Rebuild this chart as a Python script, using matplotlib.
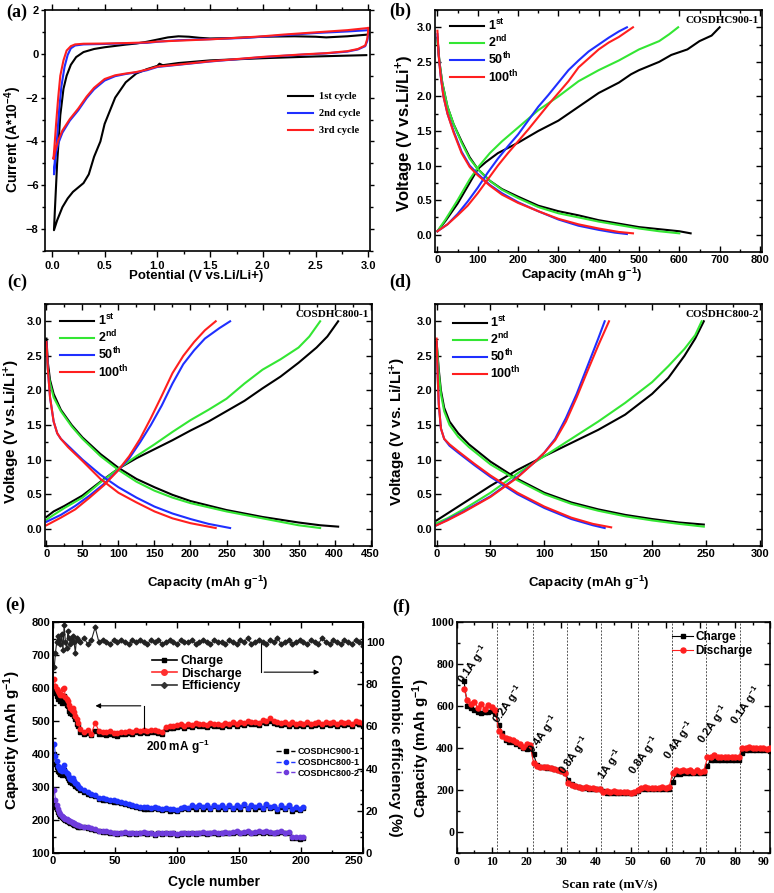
import numpy as np
import matplotlib
matplotlib.use("Agg")
import matplotlib.pyplot as plt
from matplotlib.ticker import MultipleLocator
from matplotlib.lines import Line2D

# ---- (a) cyclic voltammetry: (V, current*1e-4)
cv_1st = [(2.98, -0.06), (2.5, -0.12), (2.0, -0.2), (1.5, -0.3), (1.2, -0.42), (1.05, -0.52),
          (1.02, -0.45), (1.0, -0.55), (0.9, -0.7), (0.8, -0.9), (0.7, -1.3), (0.6, -2.0),
          (0.55, -2.6), (0.5, -3.2), (0.46, -4.0), (0.4, -4.7), (0.35, -5.5), (0.3, -5.9),
          (0.25, -6.1), (0.2, -6.3), (0.15, -6.6), (0.1, -7.0), (0.05, -7.6), (0.02, -8.05),
          (0.03, -7.0), (0.05, -5.0), (0.08, -2.8), (0.11, -1.6), (0.14, -1.0), (0.18, -0.5),
          (0.23, -0.15), (0.3, 0.08), (0.4, 0.22), (0.5, 0.3), (0.6, 0.36), (0.7, 0.42),
          (0.8, 0.47), (0.9, 0.55), (1.0, 0.65), (1.1, 0.75), (1.2, 0.8), (1.3, 0.78),
          (1.4, 0.73), (1.5, 0.7), (1.7, 0.72), (2.0, 0.78), (2.3, 0.8), (2.5, 0.78),
          (2.6, 0.75), (2.8, 0.8), (3.0, 0.88)]
cv_2nd = [(3.0, 0.95), (2.99, 0.6), (2.97, 0.35), (2.9, 0.2), (2.8, 0.1), (2.6, 0.02),
          (2.4, -0.03), (2.0, -0.15), (1.5, -0.35), (1.2, -0.5), (1.0, -0.6), (0.9, -0.75),
          (0.8, -0.85), (0.7, -0.92), (0.6, -1.02), (0.5, -1.22), (0.4, -1.62), (0.33, -2.02),
          (0.25, -2.58), (0.17, -3.05), (0.1, -3.6), (0.06, -4.1), (0.03, -4.7), (0.02, -5.5),
          (0.03, -5.0), (0.05, -3.8), (0.07, -2.5), (0.09, -1.5), (0.12, -0.6), (0.15, -0.05),
          (0.18, 0.25), (0.22, 0.38), (0.3, 0.43), (0.5, 0.45), (0.7, 0.48), (0.9, 0.5),
          (1.0, 0.55), (1.2, 0.62), (1.5, 0.67), (1.8, 0.72), (2.0, 0.78), (2.2, 0.85),
          (2.5, 0.95), (2.8, 1.02), (3.0, 1.08)]
cv_3rd = [(3.0, 1.18), (2.99, 0.7), (2.97, 0.38), (2.9, 0.22), (2.8, 0.12), (2.6, 0.03),
          (2.4, -0.02), (2.0, -0.14), (1.5, -0.34), (1.2, -0.49), (1.0, -0.58), (0.9, -0.72),
          (0.8, -0.83), (0.7, -0.9), (0.6, -0.98), (0.5, -1.15), (0.4, -1.55), (0.33, -1.95),
          (0.25, -2.5), (0.17, -2.98), (0.1, -3.5), (0.06, -3.95), (0.03, -4.45), (0.015, -4.8),
          (0.025, -4.2), (0.04, -3.2), (0.06, -2.0), (0.08, -1.0), (0.11, -0.3), (0.14, 0.15),
          (0.18, 0.35), (0.22, 0.43), (0.3, 0.46), (0.5, 0.47), (0.7, 0.49), (0.9, 0.52),
          (1.0, 0.56), (1.2, 0.6), (1.5, 0.66), (1.8, 0.74), (2.0, 0.8), (2.2, 0.88),
          (2.5, 0.98), (2.8, 1.08), (3.0, 1.18)]

# ---- (b) COSDHC900-1 (capacity, voltage)
b1_dis = [(0, 2.85), (5, 2.5), (12, 2.2), (25, 1.85), (40, 1.6), (60, 1.35), (80, 1.12), (100, 0.95),
          (130, 0.78), (160, 0.66), (200, 0.55), (250, 0.42), (300, 0.34), (350, 0.28), (400, 0.21),
          (450, 0.16), (500, 0.11), (550, 0.08), (600, 0.05), (628, 0.02)]
b1_chg = [(0, 0.05), (20, 0.2), (50, 0.45), (80, 0.75), (100, 0.95), (120, 1.05), (150, 1.18),
          (200, 1.33), (250, 1.5), (300, 1.65), (350, 1.85), (400, 2.05), (450, 2.2), (480, 2.32),
          (500, 2.38), (550, 2.5), (580, 2.6), (620, 2.68), (650, 2.8), (680, 2.88), (700, 3.0)]
b2_dis = [(0, 2.8), (5, 2.5), (12, 2.2), (25, 1.85), (40, 1.6), (60, 1.33), (80, 1.1), (100, 0.95),
          (130, 0.78), (160, 0.65), (200, 0.53), (250, 0.4), (300, 0.31), (350, 0.25), (400, 0.19),
          (450, 0.14), (500, 0.09), (550, 0.05), (600, 0.02)]
b2_chg = [(0, 0.05), (20, 0.22), (50, 0.5), (80, 0.8), (100, 0.97), (130, 1.18), (160, 1.35),
          (200, 1.55), (250, 1.8), (300, 2.0), (350, 2.22), (400, 2.38), (450, 2.52), (500, 2.68),
          (550, 2.8), (575, 2.9), (597, 3.0)]
b50_dis = [(0, 2.9), (3, 2.6), (8, 2.3), (15, 2.0), (25, 1.75), (40, 1.5), (60, 1.2), (80, 1.0),
           (100, 0.88), (130, 0.72), (160, 0.6), (200, 0.47), (250, 0.34), (300, 0.22), (350, 0.13),
           (400, 0.07), (440, 0.03), (470, 0.01)]
b50_chg = [(0, 0.05), (25, 0.15), (50, 0.3), (75, 0.48), (100, 0.68), (125, 0.9), (150, 1.1),
           (175, 1.28), (200, 1.45), (225, 1.65), (250, 1.85), (275, 2.02), (300, 2.2), (325, 2.38),
           (350, 2.52), (375, 2.65), (400, 2.75), (425, 2.85), (450, 2.94), (470, 3.0)]
b100_dis = [(0, 2.95), (3, 2.6), (8, 2.3), (15, 2.0), (25, 1.75), (40, 1.48), (60, 1.18), (80, 0.98),
            (100, 0.86), (130, 0.71), (160, 0.58), (200, 0.46), (250, 0.34), (300, 0.23), (350, 0.15),
            (400, 0.09), (450, 0.04), (485, 0.02)]
b100_chg = [(0, 0.05), (25, 0.15), (50, 0.28), (75, 0.42), (100, 0.6), (125, 0.8), (150, 1.0),
            (175, 1.18), (200, 1.35), (225, 1.52), (250, 1.7), (275, 1.88), (300, 2.05), (325, 2.22),
            (350, 2.42), (375, 2.55), (400, 2.68), (425, 2.78), (450, 2.86), (485, 3.0)]

# ---- (c) COSDHC800-1
c1_dis = [(0, 2.75), (2, 2.4), (5, 2.15), (10, 1.95), (20, 1.72), (35, 1.5), (50, 1.32), (75, 1.08),
          (100, 0.88), (125, 0.72), (150, 0.6), (175, 0.49), (200, 0.4), (250, 0.27), (300, 0.17),
          (350, 0.09), (380, 0.05), (405, 0.03)]
c1_chg = [(0, 0.17), (10, 0.25), (25, 0.33), (50, 0.48), (75, 0.68), (100, 0.87), (125, 1.02),
          (150, 1.15), (175, 1.28), (200, 1.42), (225, 1.55), (250, 1.7), (275, 1.85), (300, 2.03),
          (325, 2.2), (350, 2.4), (375, 2.62), (390, 2.78), (405, 3.0)]
c2_dis = [(0, 2.6), (2, 2.3), (5, 2.1), (10, 1.9), (20, 1.7), (35, 1.48), (50, 1.3), (75, 1.05),
          (100, 0.85), (125, 0.68), (150, 0.55), (175, 0.45), (200, 0.37), (250, 0.25), (300, 0.15),
          (350, 0.05), (380, 0.01)]
c2_chg = [(0, 0.13), (10, 0.2), (25, 0.3), (50, 0.45), (75, 0.67), (100, 0.87), (125, 1.05),
          (150, 1.22), (175, 1.4), (200, 1.57), (225, 1.72), (250, 1.88), (275, 2.1), (300, 2.3),
          (325, 2.45), (350, 2.62), (365, 2.78), (380, 3.0)]
c50_dis = [(0, 2.7), (2, 2.3), (5, 1.9), (10, 1.55), (15, 1.38), (20, 1.3), (30, 1.2), (50, 1.0),
           (75, 0.78), (100, 0.6), (125, 0.45), (150, 0.32), (175, 0.22), (200, 0.14), (225, 0.07),
           (255, 0.01)]
c50_chg = [(0, 0.1), (20, 0.2), (40, 0.33), (60, 0.48), (80, 0.65), (100, 0.85), (115, 1.02),
           (130, 1.25), (145, 1.5), (160, 1.78), (175, 2.1), (190, 2.38), (205, 2.58), (220, 2.75),
           (240, 2.9), (255, 3.0)]
c100_dis = [(0, 2.7), (2, 2.3), (5, 1.9), (10, 1.55), (15, 1.38), (20, 1.3), (30, 1.18), (50, 0.98),
            (75, 0.72), (100, 0.52), (125, 0.38), (150, 0.25), (175, 0.15), (200, 0.08), (235, 0.01)]
c100_chg = [(0, 0.05), (20, 0.16), (40, 0.28), (60, 0.45), (80, 0.63), (100, 0.85), (115, 1.05),
            (130, 1.3), (145, 1.6), (160, 1.92), (175, 2.25), (190, 2.5), (205, 2.7), (220, 2.87),
            (235, 3.0)]

# ---- (d) COSDHC800-2
d1_dis = [(0, 2.7), (2, 2.3), (4, 2.0), (7, 1.75), (12, 1.55), (20, 1.38), (30, 1.22), (50, 0.97),
          (75, 0.72), (100, 0.52), (125, 0.38), (150, 0.28), (175, 0.2), (200, 0.14), (225, 0.09),
          (248, 0.06)]
d1_chg = [(0, 0.12), (10, 0.22), (25, 0.37), (50, 0.62), (75, 0.85), (100, 1.05), (125, 1.24),
          (150, 1.43), (175, 1.65), (200, 1.95), (215, 2.18), (230, 2.5), (240, 2.75), (248, 3.0)]
d2_dis = [(0, 2.7), (2, 2.25), (4, 1.95), (7, 1.7), (12, 1.5), (20, 1.33), (30, 1.18), (50, 0.93),
          (75, 0.7), (100, 0.5), (125, 0.36), (150, 0.26), (175, 0.18), (200, 0.12), (225, 0.07),
          (248, 0.03)]
d2_chg = [(0, 0.08), (10, 0.15), (25, 0.28), (50, 0.52), (75, 0.8), (100, 1.05), (125, 1.3),
          (150, 1.55), (175, 1.82), (200, 2.12), (215, 2.35), (230, 2.6), (240, 2.8), (246, 3.0)]
d50_dis = [(0, 2.7), (1, 2.2), (2, 1.8), (4, 1.45), (7, 1.3), (12, 1.2), (20, 1.1), (35, 0.92),
           (50, 0.75), (75, 0.5), (100, 0.3), (125, 0.14), (145, 0.05), (156, 0.01)]
d50_chg = [(0, 0.05), (10, 0.13), (25, 0.25), (50, 0.47), (75, 0.75), (90, 0.95), (100, 1.1),
           (110, 1.3), (120, 1.6), (130, 1.95), (140, 2.35), (150, 2.75), (156, 3.0)]
d100_dis = [(0, 2.75), (1, 2.2), (2, 1.8), (4, 1.45), (7, 1.3), (12, 1.22), (20, 1.12), (35, 0.94),
            (50, 0.77), (75, 0.52), (100, 0.32), (125, 0.16), (145, 0.07), (162, 0.02)]
d100_chg = [(0, 0.05), (10, 0.12), (25, 0.24), (50, 0.46), (75, 0.74), (90, 0.95), (100, 1.1),
            (110, 1.28), (120, 1.55), (130, 1.9), (140, 2.28), (150, 2.65), (160, 3.0)]

# ---- (e) cycling
cyc_900 = list(range(1, 21)) + list(range(22, 251, 3))
cyc_800 = list(range(1, 21)) + list(range(22, 203, 3))
dis_900 = [628, 605, 598, 590, 585, 580, 578, 598, 600, 572, 568, 560, 548, 540, 532, 540, 528, 515, 505, 495,
           475, 468, 472, 462, 495, 470, 468, 466, 470, 465,
           463, 466, 468, 470, 468, 472, 470, 474, 470, 472,
           474, 470, 468, 482, 486, 484, 488, 490, 486, 490,
           488, 494, 490, 492, 488, 494, 490, 492, 488, 494,
           490, 496, 492, 498, 494, 500, 496, 498, 494, 502,
           500, 508, 500, 496, 494, 498, 492, 496, 490, 494,
           492, 496, 490, 494, 496, 492, 498, 494, 496, 492,
           498, 494, 496, 490, 500, 496, 490]
chg_900 = [600, 585, 575, 568, 570, 560, 555, 565, 575, 560, 550, 545, 530, 525, 520, 530, 515, 505, 492, 485,
           468, 460, 465, 458, 470, 462, 460, 458, 462, 458,
           456, 460, 462, 464, 462, 466, 464, 468, 464, 466,
           468, 464, 462, 476, 480, 478, 482, 484, 480, 484,
           482, 488, 484, 486, 482, 488, 484, 486, 482, 488,
           484, 490, 486, 492, 488, 494, 490, 492, 488, 496,
           494, 500, 494, 490, 488, 492, 486, 490, 484, 488,
           486, 490, 484, 488, 490, 486, 492, 488, 490, 486,
           492, 488, 490, 484, 494, 490, 484]
eff_900 = [88, 95, 100, 103, 101, 99, 104, 96, 108, 100, 97, 105, 102, 99, 101, 103, 100, 95, 102, 101,
           100, 102, 99, 101, 107, 100, 101, 100, 99, 101,
           100, 101, 100, 99, 101, 100, 101, 100, 99, 101,
           100, 101, 99, 100, 101, 100, 99, 101, 100, 100,
           101, 99, 100, 101, 100, 99, 101, 100, 100, 99,
           101, 100, 99, 101, 100, 102, 99, 100, 101, 100,
           99, 101, 100, 102, 99, 100, 101, 99, 100, 101,
           100, 99, 101, 100, 99, 102, 100, 99, 101, 100,
           99, 101, 100, 99, 101, 100, 98]
dis_8001 = [430, 395, 378, 365, 358, 352, 348, 360, 366, 350, 342, 338, 330, 325, 320, 326, 318, 312, 308, 302,
            296, 290, 285, 280, 276, 268, 266, 264, 262, 260,
            258, 255, 252, 248, 245, 242, 240, 238, 238, 236,
            240, 236, 234, 236, 232, 234, 230, 236, 240, 236,
            244, 238, 246, 238, 244, 236, 246, 238, 244, 236,
            246, 236, 244, 238, 248, 236, 246, 238, 244, 236,
            250, 240, 242, 232, 244, 236, 246, 232, 238, 234,
            240]
chg_8001 = [400, 370, 360, 350, 345, 340, 335, 348, 352, 338, 332, 328, 320, 315, 312, 318, 308, 304, 300, 296,
            290, 285, 280, 276, 272, 264, 262, 260, 258, 256,
            254, 251, 248, 244, 241, 238, 236, 234, 234, 232,
            236, 232, 230, 232, 228, 230, 226, 232, 236, 232,
            240, 234, 242, 234, 240, 232, 242, 234, 240, 232,
            242, 232, 240, 234, 244, 232, 242, 234, 240, 232,
            246, 236, 238, 228, 240, 232, 242, 228, 234, 230,
            236]
dis_8002 = [290, 262, 245, 232, 225, 218, 212, 208, 206, 204, 202, 200, 198, 196, 194, 192, 190, 188, 186, 184,
            182, 180, 178, 176, 172, 168, 166, 168, 165, 162,
            160, 162, 164, 160, 162, 160, 162, 164, 160, 162,
            158, 162, 160, 162, 160, 162, 158, 160, 162, 160,
            162, 160, 162, 164, 160, 162, 164, 160, 162, 164,
            162, 164, 166, 162, 164, 166, 162, 164, 166, 164,
            166, 164, 162, 164, 166, 162, 164, 150, 148, 147,
            148]
chg_8002 = [250, 240, 232, 225, 218, 212, 208, 205, 202, 200, 198, 196, 194, 192, 190, 188, 186, 184, 182, 180,
            180, 178, 176, 174, 170, 166, 164, 165, 162, 160,
            158, 160, 161, 158, 160, 158, 160, 161, 158, 160,
            156, 160, 158, 160, 158, 160, 156, 158, 160, 158,
            160, 158, 160, 162, 158, 160, 162, 158, 160, 162,
            160, 162, 164, 160, 162, 164, 160, 162, 164, 162,
            164, 162, 160, 162, 164, 160, 162, 146, 144, 143,
            145]

# ---- (f) rate performance
rate_x = list(range(2, 91))
rate_chg = [720, 600, 590, 580, 570, 565, 570, 570, 575, 565,
            510, 470, 440, 430, 430, 420, 410, 400, 395, 400,
            370, 320, 310, 310, 305, 305, 300, 295, 290, 280,
            250, 230, 220, 215, 210, 210, 205, 205, 205, 205,
            195, 185, 185, 185, 185, 185, 185, 185, 185, 185,
            195, 205, 205, 205, 205, 205, 205, 205, 205, 205,
            240, 275, 275, 280, 280, 280, 280, 280, 280, 280,
            315, 345, 345, 345, 345, 345, 345, 345, 345, 345,
            375, 390, 390, 390, 390, 390, 390, 390, 385]
rate_dis = [680, 630, 610, 620, 590, 610, 585, 605, 595, 580,
            480, 455, 450, 445, 440, 430, 420, 405, 420, 415,
            330, 315, 310, 310, 310, 305, 300, 295, 290, 280,
            235, 225, 220, 215, 210, 215, 210, 210, 205, 205,
            190, 195, 190, 195, 190, 190, 190, 190, 185, 190,
            200, 210, 215, 210, 210, 210, 210, 215, 210, 215,
            280, 295, 290, 295, 290, 295, 285, 295, 285, 290,
            355, 355, 365, 355, 355, 355, 355, 355, 355, 355,
            400, 400, 405, 400, 400, 400, 400, 395, 400]
rate_dividers = [11.5, 21.8, 31.6, 41.3, 52.0, 61.8, 71.7, 81.5]
rate_labels = ["0.1A g$^{-1}$", "0.2A g$^{-1}$", "0.4A g$^{-1}$", "0.8A g$^{-1}$", "1A g$^{-1}$",
               "0.8A g$^{-1}$", "0.4A g$^{-1}$", "0.2A g$^{-1}$", "0.1A g$^{-1}$"]
rate_label_x = [2.8, 12.8, 22.9, 32.0, 43.0, 52.1, 62.0, 71.8, 81.4]
rate_label_y = [690, 501, 359, 256, 232, 256, 327, 406, 494]

cycle_names = ["1$^{st}$", "2$^{nd}$", "50$^{th}$", "100$^{th}$"]
cycle_colors = ["black", "#33e633", "#1f2fff", "#ff1f1f"]

plt.rcParams["font.family"] = ["Liberation Sans", "DejaVu Sans"]
plt.rcParams["font.weight"] = "bold"
plt.rcParams["axes.labelweight"] = "bold"
plt.rcParams["mathtext.default"] = "regular"

W, H = 774, 893
fig = plt.figure(figsize=(7.74, 8.93), dpi=100)


def add_ax(l, t, r, b):
    return fig.add_axes([l / W, 1 - b / H, (r - l) / W, (b - t) / H])


def style(ax, xmaj, xmin, ymaj, ymin, size=8, direction="in", pad=2):
    ax.xaxis.set_major_locator(MultipleLocator(xmaj))
    ax.xaxis.set_minor_locator(MultipleLocator(xmin))
    ax.yaxis.set_major_locator(MultipleLocator(ymaj))
    ax.yaxis.set_minor_locator(MultipleLocator(ymin))
    ax.tick_params(which="both", direction=direction, top=True, right=True, labelsize=size,
                   width=1, pad=pad)
    ax.tick_params(which="major", length=4)
    ax.tick_params(which="minor", length=2)
    for s in ax.spines.values():
        s.set_linewidth(1.2)


def label(x, y, txt, rot=0, size=9, fam=None):
    kw = {} if fam is None else {"family": fam}
    fig.text(x / W, 1 - y / H, txt, rotation=rot, ha="center", va="center",
             fontsize=size, fontweight="bold", **kw)


def xy(pts):
    a = np.array(pts, dtype=float)
    return a[:, 0], a[:, 1]


# (a)
ax = add_ax(45, 10, 370, 251)
for pts, col, name in [(cv_1st, "black", "1st cycle"), (cv_2nd, "#1f2fff", "2nd cycle"),
                       (cv_3rd, "#ff1f1f", "3rd cycle")]:
    x, y = xy(pts)
    ax.plot(x, y, color=col, lw=1.5, label=name)
ax.set_xlim(-0.065, 3.015)
ax.set_ylim(-9, 2)
style(ax, 0.5, 0.25, 2, 1, direction="out", pad=3)
ax.tick_params(axis="y", which="major", length=3, pad=1.5)
ax.legend(loc="upper left", bbox_to_anchor=(0.748, 0.66), frameon=False, borderpad=0,
          borderaxespad=0, handlelength=2.4, handletextpad=0.6, labelspacing=0.75,
          prop={"family": "Liberation Serif", "weight": "bold", "size": 7.5})
label(13, 140, "Current (A*10$^{-4}$)", rot=90, size=10)
label(196, 276, "Potential (V vs.Li/Li+)", size=9.5)

# (b)-(d)
gcd_panels = [
    ((435, 10, 762, 252), (-6, 805), 100, 50,
     [(b1_dis, b1_chg), (b2_dis, b2_chg), (b50_dis, b50_chg), (b100_dis, b100_chg)],
     "COSDHC900-1", (0.046, 0.967)),
    ((45, 304, 372, 546), (-2, 452), 50, 25,
     [(c1_dis, c1_chg), (c2_dis, c2_chg), (c50_dis, c50_chg), (c100_dis, c100_chg)],
     "COSDHC800-1", (0.046, 0.963)),
    ((435, 304, 762, 546), (-1.5, 302), 50, 25,
     [(d1_dis, d1_chg), (d2_dis, d2_chg), (d50_dis, d50_chg), (d100_dis, d100_chg)],
     "COSDHC800-2", (0.055, 0.955)),
]
for box, xl, xmaj, xmin, curves, name, legpos in gcd_panels:
    ax = add_ax(*box)
    for (dis, chg), col, nm in zip(curves, cycle_colors, cycle_names):
        x, y = xy(dis)
        ax.plot(x, y, color=col, lw=1.5, label=nm)
        x, y = xy(chg)
        ax.plot(x, y, color=col, lw=1.5)
    ax.set_xlim(*xl)
    ax.set_ylim(-0.25, 3.25)
    style(ax, xmaj, xmin, 0.5, 0.25)
    ax.text(0.99, 0.955, name, transform=ax.transAxes, ha="right", va="center",
            family="Liberation Serif", fontsize=8, fontweight="bold")
    ax.legend(loc="upper left", bbox_to_anchor=legpos, frameon=False, borderpad=0,
              borderaxespad=0, handlelength=2.7, handletextpad=0.3, labelspacing=0.05,
              prop={"weight": "bold", "size": 9})

label(405, 133, "Voltage (V vs.Li/Li$^{+}$)", rot=90, size=12)
label(582, 275, "Capacity (mAh g$^{-1}$)", size=9.5)
label(12, 432, "Voltage (V vs.Li/Li$^{+}$)", rot=90, size=11)
label(208, 583, "Capacity (mAh g$^{-1}$)", size=9.5)
label(398, 432, "Voltage (V vs. Li/Li$^{+}$)", rot=90, size=11)
label(589, 583, "Capacity (mAh g$^{-1}$)", size=9.5)

# (e)
ax = add_ax(53, 622, 363, 853)
ax2 = ax.twinx()
series_e = [(cyc_900, chg_900, dis_900, "#ff2020"),
            (cyc_800, chg_8001, dis_8001, "#2035ff"),
            (cyc_800, chg_8002, dis_8002, "#6f3cdc")]
for cyc, chg, dis, col in series_e:
    ax.plot(cyc, chg, color="black", lw=0.8, marker="s", ms=2.8, mec="black", mfc="black")
    ax.plot(cyc, dis, color=col, lw=0.8, marker="o", ms=3.2, mec=col, mfc=col)
ax2.plot(cyc_900, eff_900, color="#222222", lw=0.8, marker="D", ms=2.5)
ax.set_xlim(0, 250)
ax.set_ylim(100, 800)
ax2.set_ylim(0, 109.5)
style(ax, 50, 25, 100, 50)
ax.tick_params(right=False)
ax.set_xticks(range(0, 251, 50))
ax.get_xticklabels()[-1].set_horizontalalignment("right")
ax2.yaxis.set_major_locator(MultipleLocator(20))
ax2.yaxis.set_minor_locator(MultipleLocator(10))
ax2.tick_params(which="both", direction="in", labelsize=8, width=1, pad=2)
ax2.tick_params(which="major", length=4)
ax2.tick_params(which="minor", length=2)
for s in ax2.spines.values():
    s.set_linewidth(1.2)
# arrows
ax.plot([73, 73], [479, 546], color="black", lw=0.8)
ax.annotate("", xy=(32, 546), xytext=(73, 546),
            arrowprops=dict(arrowstyle="-|>", color="black", lw=0.8, mutation_scale=7))
ax.plot([168, 168], [736, 648], color="black", lw=0.8)
ax.annotate("", xy=(217, 648), xytext=(168, 648),
            arrowprops=dict(arrowstyle="-|>", color="black", lw=0.8, mutation_scale=7))
ax.text(75, 420, "200 mA g$^{-1}$", fontsize=8.5, fontweight="bold", ha="left", va="center")
h1 = [Line2D([], [], color="black", marker="s", ms=3.5, lw=1.2),
      Line2D([], [], color="#ff3030", marker="o", ms=4, lw=1.2),
      Line2D([], [], color="#333333", marker="D", ms=3, lw=1.2)]
leg1 = ax2.legend(h1, ["Charge", "Discharge", "Efficiency"], loc="upper left",
                  bbox_to_anchor=(0.319, 0.857), frameon=False, borderpad=0, borderaxespad=0,
                  handlelength=2.0, handletextpad=0.3, labelspacing=0.05,
                  prop={"weight": "bold", "size": 9})
ax2.add_artist(leg1)
h2 = [Line2D([], [], color="black", marker="s", ms=3, lw=1, ls="--"),
      Line2D([], [], color="#2035ff", marker="o", ms=3, lw=1, ls="--"),
      Line2D([], [], color="#6f3cdc", marker="o", ms=3, lw=1, ls="--")]
ax2.legend(h2, ["COSDHC900-1", "COSDHC800-1", "COSDHC800-2"], loc="upper left",
           bbox_to_anchor=(0.72, 0.459), frameon=False, borderpad=0, borderaxespad=0,
           handlelength=2.1, handletextpad=0.3, labelspacing=0.2,
           prop={"weight": "bold", "size": 6.5})
label(12, 740, "Capacity (mAh g$^{-1}$)", rot=90, size=11)
label(395, 745, "Coulombic efficiency (%)", rot=270, size=11)
label(214, 882, "Cycle number", size=10)

# (f)
ax = add_ax(457, 622, 770, 853)
for xd in rate_dividers:
    ax.axvline(xd, color="#555555", lw=0.7, ls=(0, (2, 1.5)), zorder=1)
ax.plot(rate_x, rate_chg, color="black", lw=0.8, marker="s", ms=3, zorder=3, label="Charge")
ax.plot(rate_x, rate_dis, color="#ff1f1f", lw=0.8, marker="o", ms=3.6, zorder=4, label="Discharge")
for t, lx, ly in zip(rate_labels, rate_label_x, rate_label_y):
    ax.text(lx, ly, t, rotation=55, rotation_mode="anchor", ha="left", va="bottom",
            fontsize=8, fontweight="bold", zorder=5)
ax.set_xlim(0, 90)
ax.set_ylim(-100, 1000)
style(ax, 10, 5, 200, 100, size=8.5)
ax.set_xticks(range(0, 91, 10))
ax.tick_params(labelfontfamily="Liberation Serif")
ax.get_xticklabels()[-1].set_horizontalalignment("right")
ax.legend(loc="upper left", bbox_to_anchor=(0.687, 0.961), frameon=False, borderpad=0,
          borderaxespad=0, handlelength=1.8, handletextpad=0.2, labelspacing=0.2,
          prop={"weight": "bold", "size": 8.5})
label(421, 748, "Capacity (mAh g$^{-1}$)", rot=90, size=11)
label(610, 885, "Scan rate (mV/s)", size=9.5, fam="Liberation Serif")

# panel letters
for t, px, py in [("(a)", 17, 12), ("(b)", 400, 11), ("(c)", 17, 282), ("(d)", 400, 282),
                  ("(e)", 15, 605), ("(f)", 401, 607)]:
    label(px, py, t, size=13, fam="Liberation Serif")

fig.savefig("out.png", dpi=100)
